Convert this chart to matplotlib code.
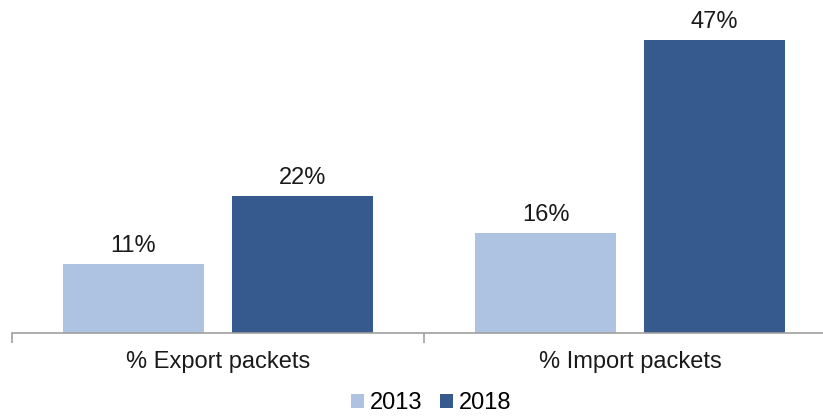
import matplotlib
matplotlib.use("Agg")
import matplotlib.pyplot as plt
import numpy as np

categories = ["% Export packets", "% Import packets"]
years = ["2013", "2018"]
values_2013 = [11, 16]
values_2018 = [22, 47]
colors = ["#adc3e1", "#365a8d"]

plt.rcParams['font.family'] = ['Liberation Sans', 'DejaVu Sans']
FS = 17

fig = plt.figure(figsize=(8.23, 4.16), dpi=100)
ax = fig.add_axes([12 / 823, 83 / 416, 824 / 823, 333 / 416])

x = np.arange(len(categories))
w = 0.342
off = 0.205
for vals, yr, c, d in [(values_2013, years[0], colors[0], -off), (values_2018, years[1], colors[1], off)]:
    bars = ax.bar(x + d, vals, width=w, color=c, label=yr)
    for b, v in zip(bars, vals):
        ax.annotate(f"{v}%", (b.get_x() + b.get_width() / 2, v), xytext=(0, 8.6),
                    textcoords="offset points", ha="center", va="baseline",
                    fontsize=FS, color="#1a1a1a")

ax.set_xlim(-0.5, 1.5)
ax.set_ylim(0, 53.4)
for s in ["top", "right", "left"]:
    ax.spines[s].set_visible(False)
ax.spines["bottom"].set_color("#a0a0a0")
ax.spines["bottom"].set_linewidth(1.2)
ax.set_yticks([])
ax.set_xticks([-0.5, 0.5, 1.5])
ax.set_xticklabels([])
ax.tick_params(axis="x", length=7, color="#a0a0a0", width=1.2)

for xi, cat in zip(x, categories):
    ax.text(xi, -35 / 333, cat, transform=ax.get_xaxis_transform(), ha="center",
            va="baseline", fontsize=FS, color="#1a1a1a")

fig.legend(loc="center", bbox_to_anchor=(431 / 823, 1 - 403 / 416), ncol=2, frameon=False,
           fontsize=FS, handlelength=0.55, handleheight=0.55, handletextpad=0.25,
           columnspacing=0.76, borderpad=0)

fig.savefig("out.png", dpi=100)
